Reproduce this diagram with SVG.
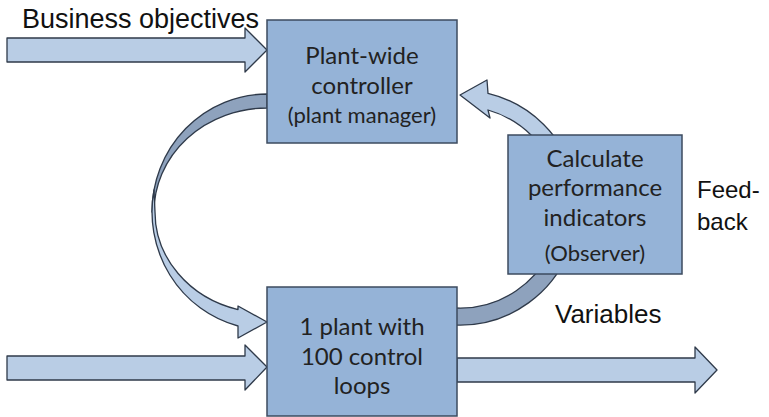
<svg xmlns="http://www.w3.org/2000/svg" width="769" height="417" viewBox="0 0 769 417">
<style>
.box{fill:#95b3d7;stroke:#3d4b5f;stroke-width:1.5}
.arr{fill:#b9cde5;stroke:#2f3a4a;stroke-width:1.3;stroke-linejoin:round}
.back{fill:#8ea2bd;stroke:#2f3a4a;stroke-width:1.3;stroke-linejoin:round}
.bt{font-family:Lato,"Open Sans",sans-serif;font-size:24px;fill:#222;text-anchor:middle}
.sm{font-size:22px}
.lb{font-family:"Liberation Sans",Arial,sans-serif;font-size:26px;fill:#111}
</style>
<rect width="769" height="417" fill="#fff"/>
<g id="connectors">
<path class="arr" d="M7,38 L245,38 L245,28 L267,50 L245,72 L245,62 L7,62 Z"/>
<path class="arr" d="M7,356 L245,356 L245,345 L267,367 L245,390 L245,380 L7,380 Z"/>
<path class="arr" d="M457,358 L695,358 L695,347 L717,370 L695,393 L695,382 L457,382 Z"/>
<path class="back" d="M267,94 A115,118 0 0 0 152,212 L154,212 A113,104 0 0 1 267,108 Z"/>
<path class="arr" d="M154,190 A115,118 0 0 0 238,326 L238,338 L267,322 L238,306 L238,309.6 A112,101 0 0 1 155,212 Z"/>
<path class="back" d="M455,308 A100,100 0 0 0 554.7,240 L572.5,240 A117,117 0 0 1 455,325 Z"/>
<path class="arr" d="M575,180 A118,118 0 0 0 488,93.4 L487,80 L460,95 L490,118 L488,110 A102,102 0 0 1 558,180 Z"/>
</g>
<g id="plant-wide-controller">
<rect class="box" x="267" y="20" width="190" height="123"/>
<text class="bt" x="362" y="64">Plant-wide</text>
<text class="bt" x="362" y="94">controller</text>
<text class="bt sm" x="362" y="123">(plant manager)</text>
</g>
<g id="plant">
<rect class="box" x="267" y="287" width="190" height="129"/>
<text class="bt" x="362" y="335">1 plant with</text>
<text class="bt" x="362" y="365">100 control</text>
<text class="bt" x="362" y="394">loops</text>
</g>
<g id="observer">
<rect class="box" x="508" y="135" width="174" height="139"/>
<text class="bt" x="595" y="167">Calculate</text>
<text class="bt" x="595" y="196">performance</text>
<text class="bt" x="595" y="226">indicators</text>
<text class="bt sm" x="595" y="261">(Observer)</text>
</g>
<g id="labels">
<text class="lb" x="22" y="28" style="font-size:27px">Business objectives</text>
<text class="lb" x="697" y="198" style="font-size:24px">Feed-</text>
<text class="lb" x="697" y="230" style="font-size:24px">back</text>
<text class="lb" x="555" y="323">Variables</text>
</g>
</svg>
